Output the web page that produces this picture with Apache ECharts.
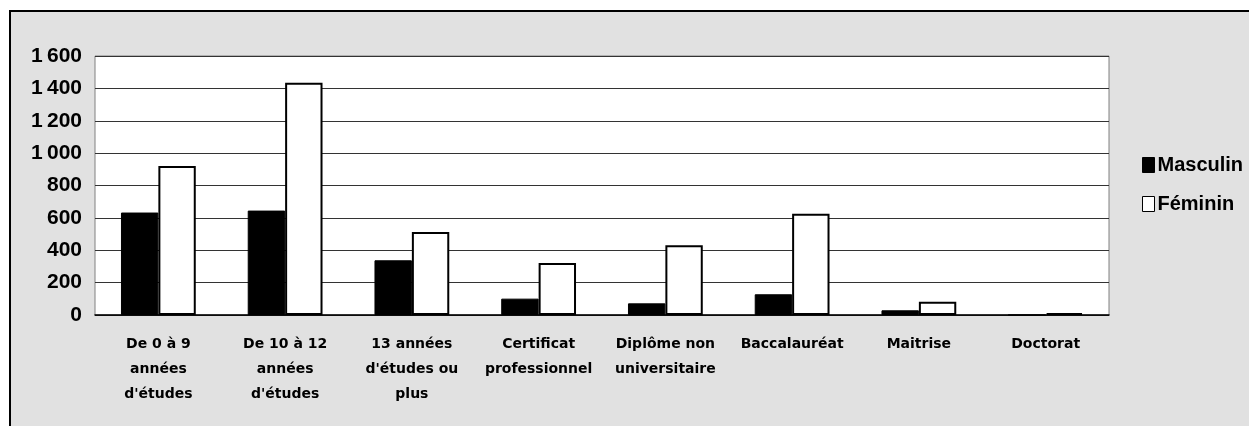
<!DOCTYPE html>
<html><head><meta charset="utf-8">
<script src="https://cdn.jsdelivr.net/npm/echarts@6/dist/echarts.min.js"></script>
<style>
html,body{margin:0;padding:0;background:#fff;width:1249px;height:426px;overflow:hidden}
#frame{position:absolute;left:9px;top:10px;width:1240px;height:416px;border-left:2px solid #000;border-top:2px solid #000;background:#e1e1e1}
#c{position:absolute;left:-11px;top:-12px;width:1249px;height:426px}
</style></head>
<body>
<div id="frame"><div id="c"></div></div>
<script>
const categories = ["De 0 à 9\nannées\nd'études", "De 10 à 12\nannées\nd'études", "13 années\nd'études ou\nplus", "Certificat\nprofessionnel", "Diplôme non\nuniversitaire", "Baccalauréat", "Maitrise", "Doctorat"];
const masculin = [633, 645, 338, 101, 72, 128, 29, 0];
const feminin = [920, 1435, 513, 322, 431, 625, 82, 12];
const yTicks = [0, 200, 400, 600, 800, 1000, 1200, 1400, 1600];

const chart = echarts.init(document.getElementById('c'), null, {renderer:'canvas'});
chart.setOption({
  animation:false,
  backgroundColor:'transparent',
  grid:{left:95, right:140, top:56, bottom:111, show:true, backgroundColor:'#fff', borderColor:'#808080', borderWidth:1},
  legend:{
    orient:'vertical', left:1137, top:150, icon:'rect', itemWidth:12, itemHeight:15, itemGap:19,
    textStyle:{fontFamily:'Liberation Sans, Arial', fontWeight:'bold', fontSize:20, color:'#000', padding:[0,0,0,-2]},
    data:[{name:'Masculin', itemStyle:{color:'#000', borderColor:'#000', borderWidth:1}},
          {name:'Féminin', itemStyle:{color:'#fff', borderColor:'#000', borderWidth:1}}]
  },
  xAxis:{
    type:'category', data:categories,
    axisLine:{lineStyle:{color:'#000', width:1.5}},
    axisTick:{show:false},
    axisLabel:{interval:0, margin:17, fontFamily:'DejaVu Sans, Liberation Sans', fontWeight:900, fontSize:14, lineHeight:25, color:'#000', align:'center'}
  },
  yAxis:{
    type:'value', min:0, max:1600, interval:200,
    axisLine:{show:false}, axisTick:{show:false},
    splitLine:{lineStyle:{color:'#333', width:1}},
    axisLabel:{margin:13, fontFamily:'Liberation Sans, Arial', fontWeight:'bold', fontSize:21, color:'#000',
      formatter:v=> yTicks.includes(v) ? String(v).replace(/\B(?=(\d{3})+(?!\d))/g,'\u2009') : ''}
  },
  series:[
    {name:'Masculin', type:'bar', data:masculin, barGap:'0%', barCategoryGap:'41%',
     itemStyle:{color:'#000', borderColor:'#000', borderWidth:1}},
    {name:'Féminin', type:'bar', data:feminin,
     itemStyle:{color:'#fff', borderColor:'#000', borderWidth:2}}
  ]
});
</script>
</body></html>
